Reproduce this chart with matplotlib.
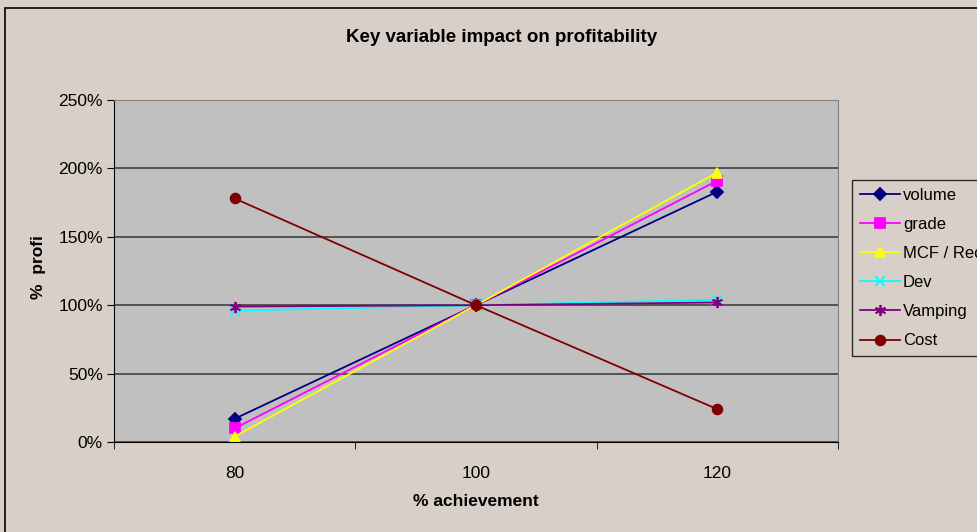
import matplotlib
matplotlib.use("Agg")
import matplotlib.pyplot as plt
from matplotlib.patches import Rectangle
from matplotlib.ticker import PercentFormatter

plt.rcParams['font.family'] = ['Liberation Sans', 'DejaVu Sans']

categories = ['80', '100', '120']
volume = [17, 100, 183]
grade = [10, 100, 191]
mcf_rec = [4, 100, 197]
dev = [96, 100, 104]
vamping = [99, 100, 102]
cost = [178, 100, 24]

series = [
    ('volume', volume, '#000080', 'D', 6),
    ('grade', grade, '#FF00FF', 's', 7),
    ('MCF / Recovery', mcf_rec, '#FFFF00', '^', 7),
    ('Dev', dev, '#00FFFF', 'x', 7),
    ('Vamping', vamping, '#800080', (6, 2, 0), 8),
    ('Cost', cost, '#800000', 'o', 7),
]

bg = '#D8D0C8'
fig = plt.figure(figsize=(9.77, 5.32), dpi=100, facecolor=bg)
fig.patches.append(Rectangle((5 / 977, -0.05), 1.1, 1 - 8 / 532 + 0.05,
                             transform=fig.transFigure, fill=False,
                             edgecolor='black', linewidth=1.2))

ax = fig.add_axes([114 / 977, 90 / 532, 724 / 977, 342 / 532])
ax.set_facecolor('#C0C0C0')

x = range(len(categories))
for name, vals, col, mk, ms in series:
    ax.plot(x, vals, color=col, marker=mk, markersize=ms, linewidth=1.3,
            markerfacecolor=col, markeredgecolor=col, markeredgewidth=1.3,
            label=name)

ax.set_xlim(-0.5, 2.5)
ax.set_ylim(0, 250)
ax.set_yticks(range(0, 251, 50))
ax.yaxis.set_major_formatter(PercentFormatter(decimals=0))
ax.yaxis.grid(True, color='#404040', linewidth=1.2)
ax.set_axisbelow(True)

ax.set_xticks(list(x))
ax.set_xticklabels(categories)
ax.set_xticks([-0.5, 0.5, 1.5, 2.5], minor=True)
ax.tick_params(axis='x', which='major', length=0, pad=17, labelsize=12.5)
ax.tick_params(axis='x', which='minor', length=5, direction='out', color='black')
ax.tick_params(axis='y', length=5, direction='out', labelsize=12.5, pad=3)

for s in ['top', 'right']:
    ax.spines[s].set_color('#808080')
for s in ['left', 'bottom']:
    ax.spines[s].set_color('black')

fig.text(502 / 977, 1 - 38 / 532, 'Key variable impact on profitability',
         ha='center', va='center', fontsize=13.5, fontweight='bold')
fig.text(476 / 977, 1 - 502 / 532, '% achievement', ha='center', va='center',
         fontsize=12.5, fontweight='bold')
fig.text(39 / 977, 1 - 267 / 532, '%  profi', ha='center', va='center',
         rotation=90, fontsize=12.5, fontweight='bold')

leg = ax.legend(loc='upper left', bbox_to_anchor=(852 / 977, 1 - 180 / 532),
                bbox_transform=fig.transFigure, frameon=True, fancybox=False,
                edgecolor='black', facecolor=bg, fontsize=12,
                handlelength=2.4, handletextpad=0.2, labelspacing=0.85,
                borderpad=0.45, borderaxespad=0)
leg.get_frame().set_linewidth(1.0)

fig.savefig('out.png', dpi=100, facecolor=bg)
